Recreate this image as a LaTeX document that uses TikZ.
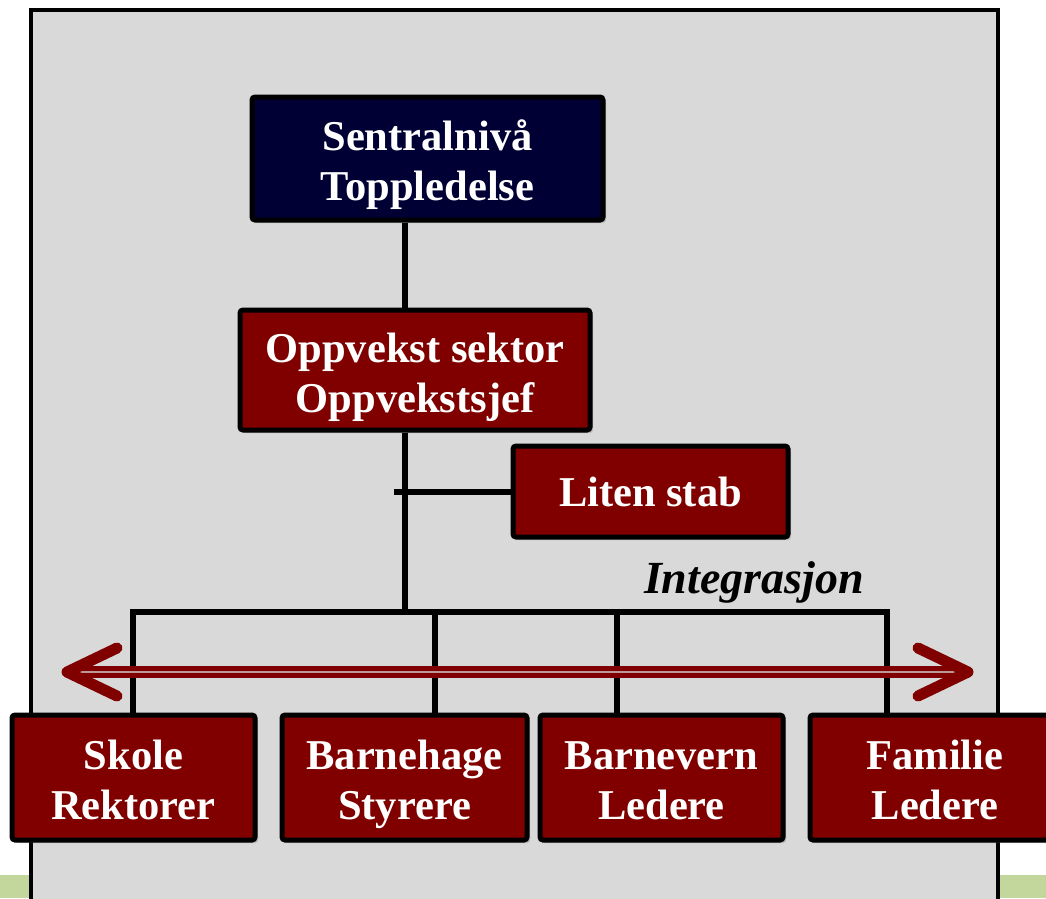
\documentclass[tikz,border=0pt]{standalone}
\usepackage{fontspec}
\setmainfont{Liberation Serif}
\usetikzlibrary{shadows}
\definecolor{panelgray}{HTML}{D9D9D9}
\definecolor{navy}{HTML}{000035}
\definecolor{maroon}{HTML}{800000}
\definecolor{leaf}{HTML}{C3D69B}
\newcommand{\topstrut}{\rule{0pt}{48pt}}
\newcommand{\botstrut}{\rule[-14pt]{0pt}{14pt}}
\tikzset{
  box/.style={draw=black, line width=5pt, rounded corners=3pt, text=white,
    font=\bfseries\fontsize{42.5}{50}\selectfont, align=center, inner sep=0pt,
    drop shadow={shadow xshift=3pt, shadow yshift=-3pt, opacity=0.35}},
  redbox/.style={box, fill=maroon},
  link/.style={draw=black, line width=6pt},
}
\begin{document}
\begin{tikzpicture}[x=1pt,y=-1pt]
\useasboundingbox (0,0) rectangle (1046,898);
% background band and panel
\fill[leaf] (0,875) rectangle (1046,898);
\draw[fill=panelgray, line width=4pt] (31,10) rectangle (998,910);
% nodes
\node[box, fill=navy, minimum width=351pt, minimum height=123pt] (top) at (427.5,158.5) {\topstrut Sentralnivå\\Toppledelse\botstrut};
\node[redbox, minimum width=350pt, minimum height=120pt] (opp) at (415,370) {\topstrut Oppvekst sektor\\Oppvekstsjef\botstrut};
\node[redbox, minimum width=275pt, minimum height=91pt] (stab) at (650.5,491.5) {Liten stab};
% junction coordinates
\coordinate (jx) at (405,0);
\coordinate (bar) at (0,612);
\coordinate (stabL) at (394,491.5);
\coordinate (barL) at (130,612);
\coordinate (barR) at (890,612);
\coordinate (d1) at (133,0);
\coordinate (d2) at (435,0);
\coordinate (d3) at (617,0);
\coordinate (d4) at (887,0);
% connectors
\draw[link] (jx |- top.south) -- (jx |- opp.north);
\draw[link] (jx |- opp.south) -- (jx |- bar);
\draw[link] (stabL) -- (stab.west);
\draw[link] (barL) -- (barR);
\node[font=\bfseries\itshape\fontsize{46}{50}\selectfont, anchor=south] (integ) at (754,607) {Integrasjon};
% bottom nodes
\node[redbox, minimum width=243pt, minimum height=125pt] (skole) at (133.5,777.5) {\topstrut Skole\\Rektorer\botstrut};
\node[redbox, minimum width=245pt, minimum height=125pt] (bhage) at (404.5,777.5) {\topstrut Barnehage\\Styrere\botstrut};
\node[redbox, minimum width=243pt, minimum height=125pt] (bvern) at (661.5,777.5) {\topstrut Barnevern\\Ledere\botstrut};
\node[redbox, minimum width=250pt, minimum height=125pt] (fam) at (935,777.5) {\topstrut Familie\\Ledere\botstrut};
\draw[link] (d1 |- bar) -- (d1 |- skole.north);
\draw[link] (d2 |- bar) -- (d2 |- bhage.north);
\draw[link] (d3 |- bar) -- (d3 |- bvern.north);
\draw[link] (d4 |- bar) -- (d4 |- fam.north);
% integration arrow
\coordinate (aL) at (67,672);
\coordinate (aR) at (968,672);
\draw[maroon, line width=12pt] ([xshift=8pt]aL) -- ([xshift=-8pt]aR);
\draw[panelgray!70!maroon, line width=1.2pt] ([xshift=10pt]aL) -- ([xshift=-10pt]aR);
\draw[maroon, line width=11pt, line cap=round, line join=round] ([xshift=50pt,yshift=-24pt]aL) -- (aL) -- ([xshift=50pt,yshift=24pt]aL);
\draw[maroon, line width=11pt, line cap=round, line join=round] ([xshift=-50pt,yshift=-24pt]aR) -- (aR) -- ([xshift=-50pt,yshift=24pt]aR);
\end{tikzpicture}
\end{document}
